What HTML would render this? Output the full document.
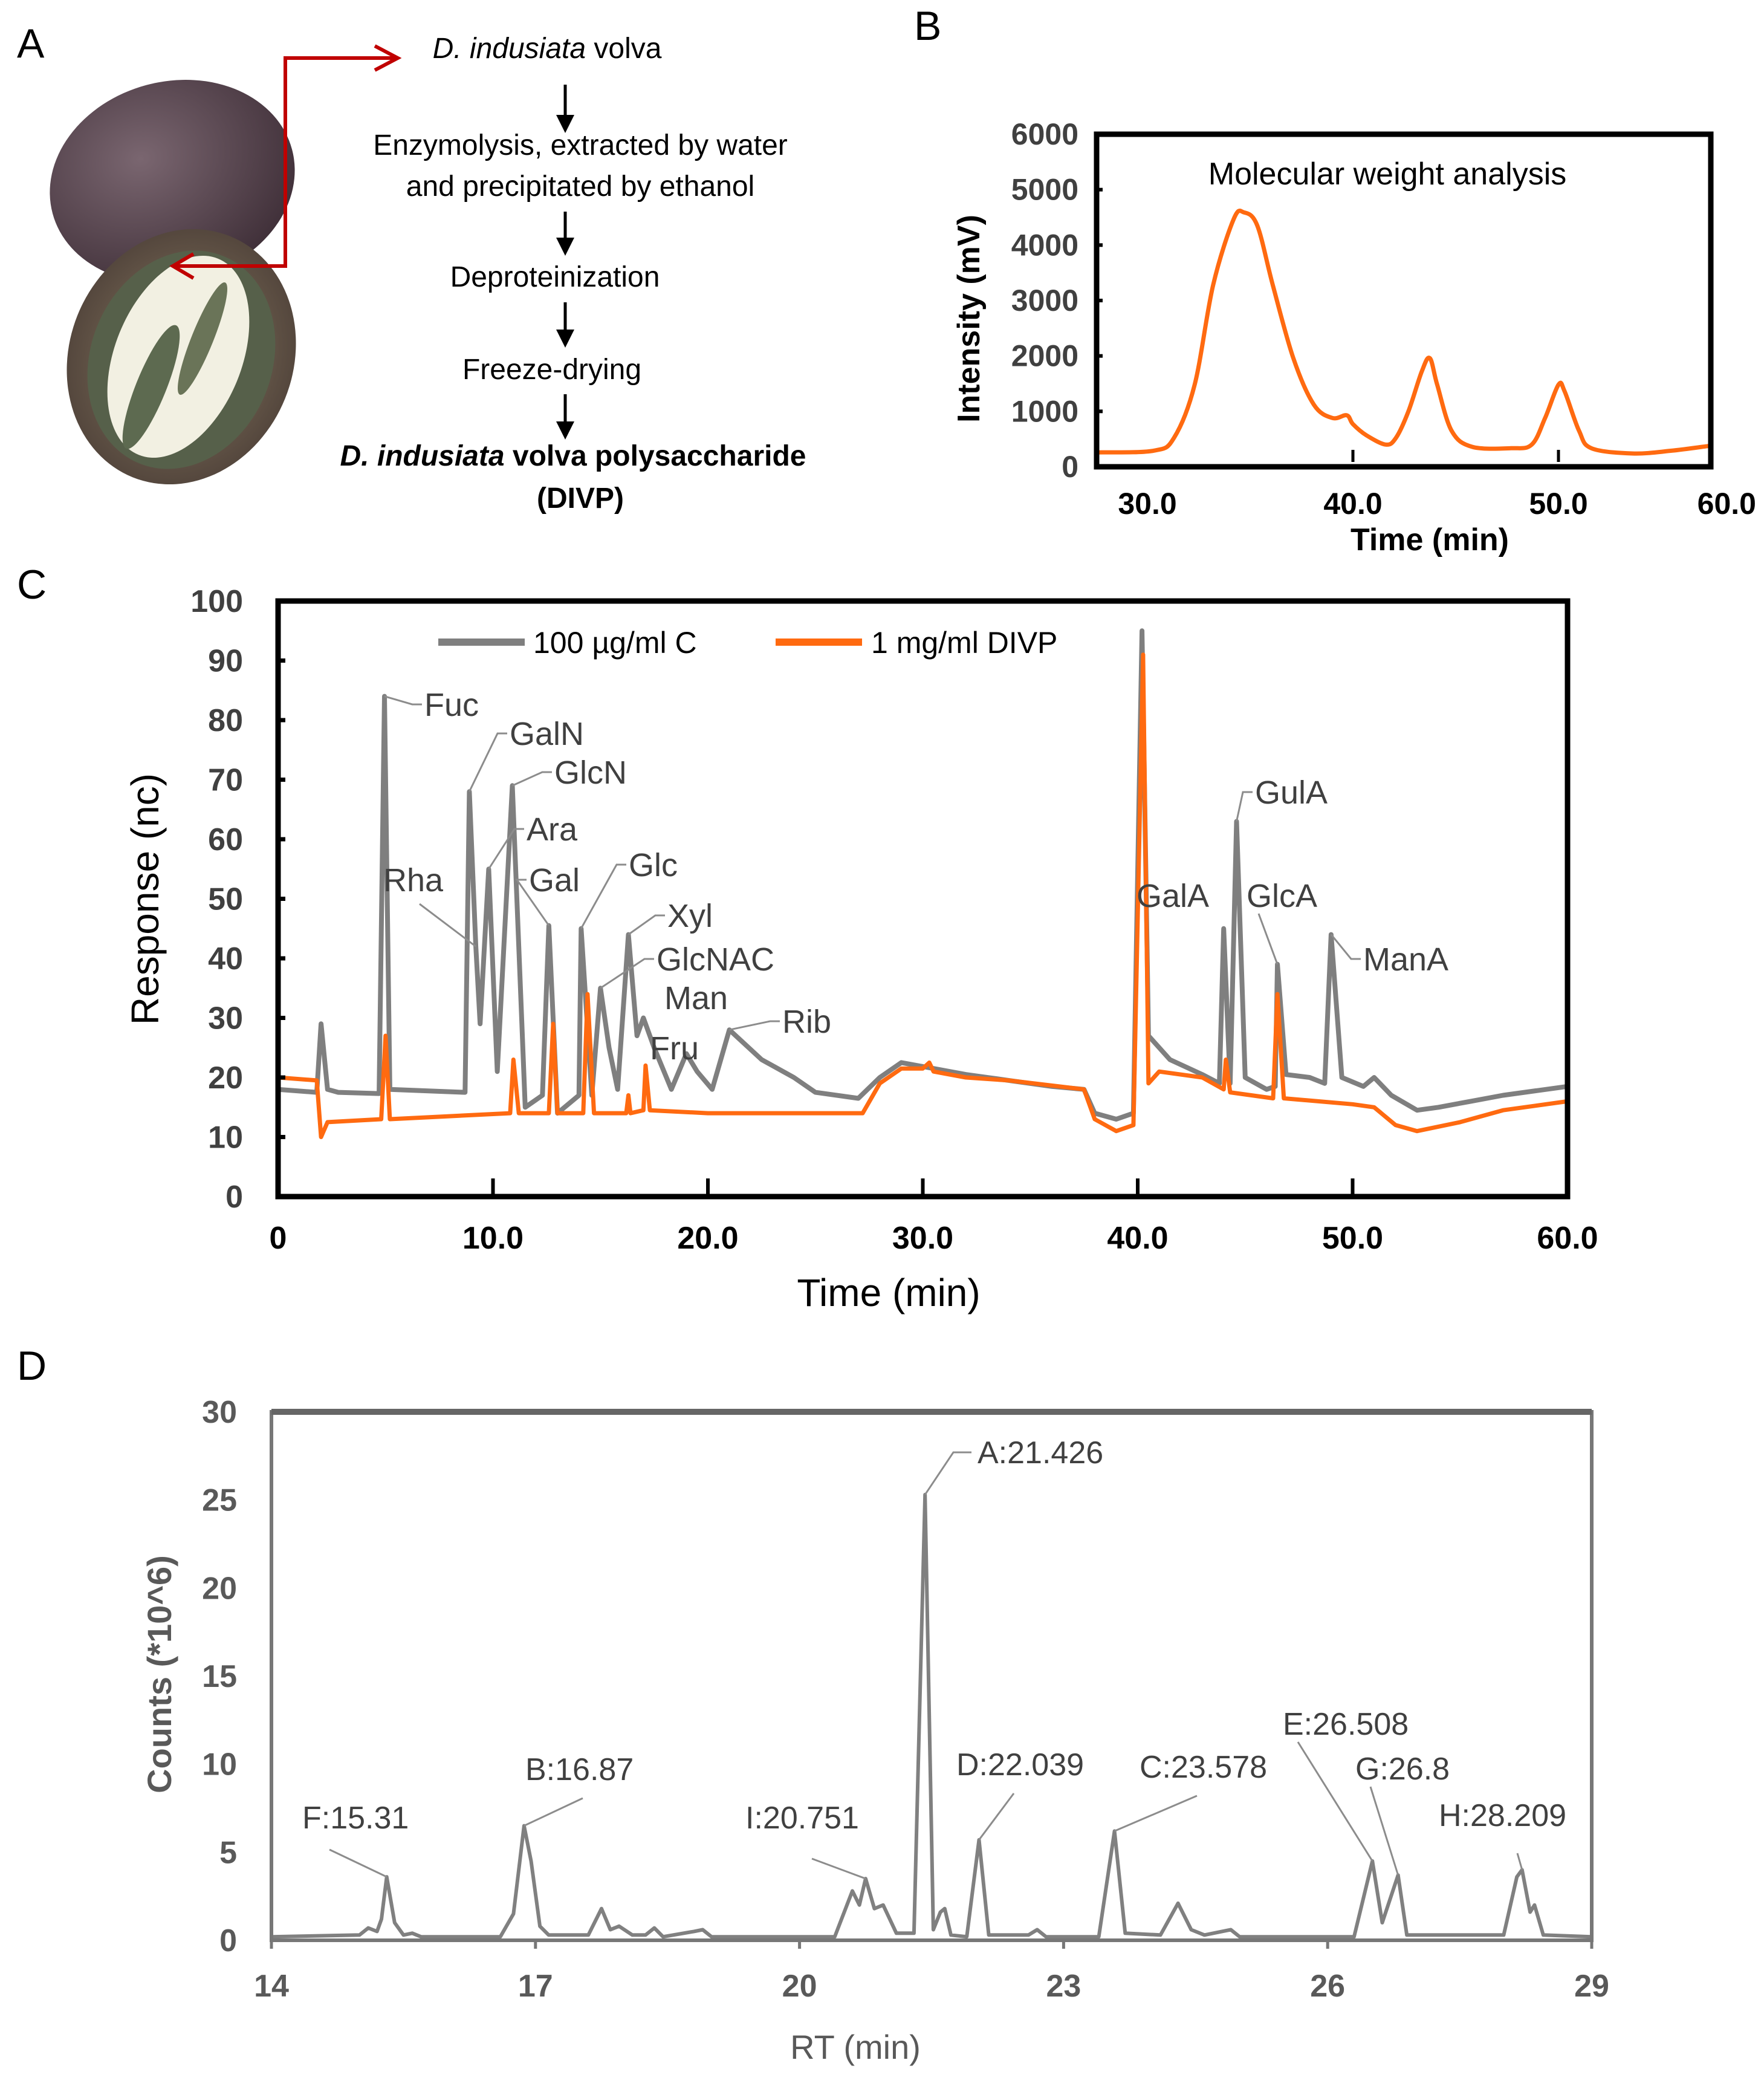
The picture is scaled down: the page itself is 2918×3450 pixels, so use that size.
<!DOCTYPE html>
<html><head><meta charset="utf-8"><style>
html,body{margin:0;padding:0;background:#fff;}
svg text{font-family:"Liberation Sans",sans-serif;}
</style></head><body>
<svg id="fig" xmlns="http://www.w3.org/2000/svg" width="2918" height="3445" viewBox="0 0 2918 3445">
<defs>
<radialGradient id="gTop" cx="40%" cy="35%" r="70%"><stop offset="0" stop-color="#7a6670"/><stop offset="1" stop-color="#3f2f38"/></radialGradient>
<radialGradient id="gBot" cx="50%" cy="50%" r="60%"><stop offset="0" stop-color="#8a7a62"/><stop offset="1" stop-color="#4a3d36"/></radialGradient>
<marker id="arrB" markerWidth="6" markerHeight="6" refX="3" refY="3" orient="auto" markerUnits="strokeWidth"><path d="M0,0 L6,3 L0,6 z" fill="#000"/></marker>
</defs>

<!-- Panel A -->
<text x="28" y="95" font-size="68" fill="#000">A</text>
<g>
  <ellipse cx="285" cy="300" rx="205" ry="165" fill="url(#gTop)" transform="rotate(-15 285 300)"/>
  <ellipse cx="300" cy="590" rx="185" ry="215" fill="url(#gBot)" transform="rotate(22 300 590)"/>
  <ellipse cx="300" cy="595" rx="150" ry="185" fill="#56604a" transform="rotate(22 300 595)"/>
  <ellipse cx="295" cy="590" rx="105" ry="175" fill="#f2f0e2" transform="rotate(22 295 590)"/>
  <ellipse cx="250" cy="640" rx="25" ry="110" fill="#5d6a50" transform="rotate(22 250 640)"/>
  <ellipse cx="335" cy="560" rx="18" ry="100" fill="#6a7458" transform="rotate(22 335 560)"/>
</g>
<g stroke="#c00000" stroke-width="6" fill="none">
  <polyline points="290,440 472,440 472,96 655,96"/>
  <polyline points="620,76 658,96 620,116"/>
  <polyline points="320,420 286,440 320,460"/>
</g>
<g font-size="48" text-anchor="middle" fill="#000">
  <text x="905" y="96"><tspan font-style="italic">D. indusiata</tspan> volva</text>
  <text x="960" y="256">Enzymolysis, extracted by water</text>
  <text x="960" y="324">and precipitated by ethanol</text>
  <text x="918" y="474">Deproteinization</text>
  <text x="913" y="627">Freeze-drying</text>
  <text x="948" y="770" font-weight="bold"><tspan font-style="italic">D. indusiata</tspan> volva polysaccharide</text>
  <text x="960" y="840" font-weight="bold">(DIVP)</text>
  <g stroke="#000" stroke-width="5">
    <line x1="935" y1="140" x2="935" y2="205" marker-end="url(#arrB)"/>
    <line x1="935" y1="350" x2="935" y2="408" marker-end="url(#arrB)"/>
    <line x1="935" y1="500" x2="935" y2="560" marker-end="url(#arrB)"/>
    <line x1="935" y1="652" x2="935" y2="712" marker-end="url(#arrB)"/>
  </g>
</g>

<text x="1512" y="66" font-size="68" fill="#000">B</text>
<g id="panelB"></g>
<text x="28" y="990" font-size="68" fill="#000">C</text>
<g id="panelC"></g>
<text x="28" y="2282" font-size="68" fill="#000">D</text>
<g id="panelD"></g>
</svg>
<script>
// ---------- Panel B data ----------
const bTimes = [27.5,30.3,31.3,32.3,33.2,34.2,34.7,35.35,36.1,37.1,38.1,39.0,39.7,40.0,40.65,41.6,42.1,42.7,43.35,43.74,44.1,44.8,45.8,47.7,48.7,49.35,50.0,50.3,51.0,51.6,53.6,55.5,57.4];
const bValues = [260,290,525,1480,3280,4470,4590,4350,3280,1960,1120,880,930,770,570,400,525,1000,1720,1960,1480,650,360,335,400,880,1480,1360,650,335,240,290,380];
const bYTicks = [0,1000,2000,3000,4000,5000,6000];
const bXTicks = [30,40,50,60];
const bXTickLabels = ["30.0","40.0","50.0","60.0"];

// ---------- Panel C data ----------
const cGrayT = [0,1.8,2,2.3,2.8,4.7,4.95,5.2,8.7,8.9,9.2,9.4,9.8,10.2,10.9,11.5,12.3,12.6,13,14,14.1,14.6,15,15.4,15.8,16.3,16.7,17,17.5,18.3,19,19.5,20.2,21,21.6,22.5,24,25,27,28,29,30.5,32,34,36,37.5,38,39,39.8,40.2,40.5,41.5,43,43.8,44,44.3,44.6,45,46,46.4,46.5,46.9,48,48.7,49,49.5,50.5,51,51.8,53,54,55.5,57,60];
const cGrayV = [18,17.5,29,18,17.5,17.3,84,18,17.5,68,42,29,55,21,69,15,17,45.5,14,17,45,17,35,25,18,44,27,30,25,18,24,21,18,28,26,23,20,17.5,16.5,20,22.5,21.5,20.5,19.5,18.5,18,14,13,14,95,27,23,20.5,19,45,19,63,20,18,18.5,39,20.5,20,19,44,20,18.5,20,17,14.5,15,16,17,18.5];
const cOrangeT = [0,1.8,2,2.3,4.8,5,5.2,10.8,10.95,11.2,12.6,12.8,13,14.2,14.4,14.7,16.2,16.3,16.4,17,17.1,17.3,20,27.2,28,29,30,30.3,30.5,32,34,37.5,38,39,39.8,40.25,40.5,41,43,44,44.1,44.3,46.3,46.5,46.8,50,51,52,53,55,57,60];
const cOrangeV = [20,19.5,10,12.5,13,27,13,14,23,14,14,29,14,14,34,14,14,17,14,14.5,22,14.5,14,14,19,21.5,21.5,22.5,21,20,19.5,18,13,11,12,91,19,21,20,18,23,17.5,16.5,34,16.5,15.5,15,12,11,12.5,14.5,16];
const cYTicks = [0,10,20,30,40,50,60,70,80,90,100];
const cXTicks = [0,10,20,30,40,50,60];
const cXTickLabels = ["0","10.0","20.0","30.0","40.0","50.0","60.0"];
const cPeakNames = ["Fuc","GalN","GlcN","Ara","Rha","Gal","Glc","Xyl","GlcNAC","Man","Fru","Rib","GalA","GulA","GlcA","ManA"];
const cPeakT = [4.95,8.9,10.9,9.8,9.2,12.6,14.1,16.3,15.0,17.0,19.0,21.0,44.0,44.6,46.5,49.0];
const cPeakV = [84,68,69,55,42,45.5,45,44,35,30,24,28,45,63,39,44];

// ---------- Panel D data ----------
const dT = [14,15.0,15.1,15.2,15.25,15.31,15.4,15.5,15.6,15.7,16.6,16.75,16.87,16.95,17.05,17.15,17.6,17.75,17.85,17.95,18.1,18.25,18.35,18.45,18.8,18.9,19.0,20.4,20.6,20.68,20.751,20.85,20.95,21.1,21.3,21.426,21.52,21.6,21.65,21.72,21.9,22.039,22.15,22.6,22.7,22.8,23.4,23.578,23.7,24.1,24.3,24.45,24.6,24.9,25.0,26.3,26.508,26.62,26.8,26.9,28.0,28.15,28.209,28.3,28.35,28.45,29];
const dV = [0.2,0.3,0.7,0.5,1.2,3.6,1.0,0.3,0.4,0.2,0.2,1.5,6.5,4.5,0.8,0.3,0.3,1.8,0.6,0.8,0.3,0.3,0.7,0.2,0.5,0.6,0.2,0.2,2.8,2.0,3.5,1.8,2.0,0.4,0.4,25.3,0.6,1.6,1.8,0.3,0.2,5.7,0.3,0.3,0.6,0.2,0.2,6.2,0.4,0.3,2.1,0.6,0.3,0.6,0.2,0.2,4.5,1.0,3.7,0.3,0.3,3.6,4.0,1.6,2.0,0.3,0.2];
const dYTicks = [0,5,10,15,20,25,30];
const dXTicks = [14,17,20,23,26,29];
const dLabels = ["A:21.426","B:16.87","C:23.578","D:22.039","E:26.508","F:15.31","G:26.8","H:28.209","I:20.751"];
const dLabelT = [21.426,16.87,23.578,22.039,26.508,15.31,26.8,28.209,20.751];
const dLabelV = [25.3,6.5,6.2,5.7,4.5,3.6,3.7,4.0,3.5];

const NS = "http://www.w3.org/2000/svg";
function mk(parent, tag, attrs, txt){
  const e = document.createElementNS(NS, tag);
  for (const k in attrs) e.setAttribute(k, attrs[k]);
  if (txt !== undefined) e.textContent = txt;
  parent.appendChild(e);
  return e;
}
function pathFrom(ts, vs, fx, fy){
  let d = "";
  for (let i=0;i<ts.length;i++) d += (i?"L":"M") + fx(ts[i]).toFixed(1) + "," + fy(vs[i]).toFixed(1);
  return d;
}
function smoothPath(ts, vs, fx, fy){
  const p = ts.map((t,i)=>[fx(t),fy(vs[i])]);
  let d = "M"+p[0][0].toFixed(1)+","+p[0][1].toFixed(1);
  for(let i=0;i<p.length-1;i++){
    const p0=p[Math.max(0,i-1)], p1=p[i], p2=p[i+1], p3=p[Math.min(p.length-1,i+2)];
    const c1=[p1[0]+(p2[0]-p0[0])/6, p1[1]+(p2[1]-p0[1])/6];
    const c2=[p2[0]-(p3[0]-p1[0])/6, p2[1]-(p3[1]-p1[1])/6];
    d += "C"+c1[0].toFixed(1)+","+c1[1].toFixed(1)+" "+c2[0].toFixed(1)+","+c2[1].toFixed(1)+" "+p2[0].toFixed(1)+","+p2[1].toFixed(1);
  }
  return d;
}

// ===== Panel B =====
(function(){
  const g = document.getElementById('panelB');
  const L=1814,R=2830,T=222,B=772;
  const x = t => 2238 + (t-40)*34;
  const y = v => B - v/6000*(B-T);
  let e = mk(g,'path',{d:smoothPath(bTimes,bValues,x,y),fill:'none',stroke:'#ff6a10','stroke-width':7,'stroke-linejoin':'round'});
  
  
  e = mk(g,'rect',{x:L,y:T,width:R-L,height:B-T,fill:'none',stroke:'#000','stroke-width':9});
  
  
  bYTicks.forEach(v=>{
    const t = mk(g,'text',{x:L-30,y:y(v)+17,'font-size':50,'font-weight':'bold',fill:'#404040','text-anchor':'end'},String(v));
    
    
    const tk = mk(g,'line',{x1:L,x2:L+10,y1:y(v),y2:y(v),stroke:'#000','stroke-width':6});
    
    
  });
  bXTicks.forEach((v,i)=>{
    const t = mk(g,'text',{x:Math.min(x(v),2905),y:850,'font-size':50,'font-weight':'bold',fill:'#000','text-anchor':x(v)>2880?'end':'middle'},bXTickLabels[i]);
    
    
    if(v>30 && v<60){
      const tk = mk(g,'line',{x1:x(v),x2:x(v),y1:B-8,y2:B-28,stroke:'#000','stroke-width':5});
      
      
    }
  });
  e = mk(g,'text',{x:2295,y:305,'font-size':52,fill:'#000','text-anchor':'middle'},'Molecular weight analysis');
  
  
  e = mk(g,'text',{x:2365,y:910,'font-size':52,'font-weight':'bold',fill:'#000','text-anchor':'middle'},'Time (min)');
  
  
  e = mk(g,'text',{x:0,y:0,'font-size':52,'font-weight':'bold',fill:'#000','text-anchor':'middle',transform:'translate(1620,527) rotate(-90)'},'Intensity (mV)');
  
  
})();

// ===== Panel C =====
(function(){
  const g = document.getElementById('panelC');
  const L=460,R=2593,T=994,B=1979;
  const x = t => L + t/60*(R-L);
  const y = v => B - v/100*(B-T);
  let e = mk(g,'path',{d:pathFrom(cGrayT,cGrayV,x,y),fill:'none',stroke:'#7f7f7f','stroke-width':8,'stroke-linejoin':'round'});
  
  
  e = mk(g,'path',{d:pathFrom(cOrangeT,cOrangeV,x,y),fill:'none',stroke:'#ff6a10','stroke-width':7,'stroke-linejoin':'round'});
  
  
  e = mk(g,'rect',{x:L,y:T,width:R-L,height:B-T,fill:'none',stroke:'#000','stroke-width':9});
  
  
  cYTicks.forEach(v=>{
    const t = mk(g,'text',{x:402,y:y(v)+18,'font-size':52,'font-weight':'bold',fill:'#404040','text-anchor':'end'},String(v));
    
    
    const tk = mk(g,'line',{x1:L,x2:L+12,y1:y(v),y2:y(v),stroke:'#000','stroke-width':7});
    
    
  });
  cXTicks.forEach((v,i)=>{
    const t = mk(g,'text',{x:x(v),y:2065,'font-size':52,'font-weight':'bold',fill:'#000','text-anchor':'middle'},cXTickLabels[i]);
    
    
    const tk = mk(g,'line',{x1:x(v),x2:x(v),y1:B,y2:B-30,stroke:'#000','stroke-width':6});
    
    
  });
  // peak labels: absolute label anchor (left x, center y)
  const labPos = {Fuc:[702,1165],GalN:[843,1213],GlcN:[917,1277],Ara:[871,1371],Rha:[634,1455],Gal:[875,1455],Glc:[1040,1430],Xyl:[1104,1514],GlcNAC:[1086,1586],Man:[1099,1650],Fru:[1075,1733],Rib:[1294,1689],GalA:[1880,1481],GulA:[2076,1310],GlcA:[2062,1481],ManA:[2255,1586]};
  const noLeader = {Man:1,Fru:1,GalA:1};
  cPeakNames.forEach((n,i)=>{
    const px=x(cPeakT[i]), py=y(cPeakV[i]);
    const p = labPos[n];
    const tx=p[0], ty=p[1];
    if(!noLeader[n]){
      let pts;
      if(n==="Rha") pts = `${tx+60},${ty+40} ${px},${py}`;
      else if(n==="GlcA") pts = `${tx+20},${ty+30} ${px},${py}`;
      else pts = `${px},${py} ${tx-20},${ty} ${tx-4},${ty}`;
      const ln = mk(g,'polyline',{points:pts,fill:'none',stroke:'#8c8c8c','stroke-width':3});
      
      
    }
    const t = mk(g,'text',{x:tx,y:ty+19,'font-size':54,fill:'#404040'},n);
    
    
  });
  // legend
  let l = mk(g,'line',{x1:725,x2:868,y1:1062,y2:1062,stroke:'#7f7f7f','stroke-width':12});
  
  
  l = mk(g,'text',{x:882,y:1080,'font-size':50,fill:'#000'},'100 µg/ml C');
  
  
  l = mk(g,'line',{x1:1283,x2:1426,y1:1062,y2:1062,stroke:'#ff6a10','stroke-width':12});
  
  
  l = mk(g,'text',{x:1441,y:1080,'font-size':50,fill:'#000'},'1 mg/ml DIVP');
  
  
  e = mk(g,'text',{x:1470,y:2160,'font-size':64,fill:'#000','text-anchor':'middle'},'Time (min)');
  
  
  e = mk(g,'text',{x:0,y:0,'font-size':64,fill:'#000','text-anchor':'middle',transform:'translate(262,1487) rotate(-90)'},'Response (nc)');
  
  
})();

// ===== Panel D =====
(function(){
  const g = document.getElementById('panelD');
  const L=449,R=2633,T=2335,B=3209;
  const x = t => L + (t-14)/15*(R-L);
  const y = v => B - v/30*(B-T);
  let e = mk(g,'line',{x1:L,x2:R,y1:y(0),y2:y(0),stroke:'#d0d0d0','stroke-width':4});
  
  
  e = mk(g,'path',{d:pathFrom(dT,dV,x,y),fill:'none',stroke:'#808080','stroke-width':6,'stroke-linejoin':'round'});
  
  
  e = mk(g,'rect',{x:L,y:T,width:R-L,height:B-T,fill:'none',stroke:'#777','stroke-width':6});
  
  
  e = mk(g,'line',{x1:L,x2:R,y1:T,y2:T,stroke:'#666','stroke-width':10});
  
  
  dYTicks.forEach(v=>{
    const t = mk(g,'text',{x:392,y:y(v)+18,'font-size':52,'font-weight':'bold',fill:'#595959','text-anchor':'end'},String(v));
    
    
  });
  dXTicks.forEach(v=>{
    const t = mk(g,'text',{x:x(v),y:3302,'font-size':52,'font-weight':'bold',fill:'#595959','text-anchor':'middle'},String(v));
    
    
    const tk = mk(g,'line',{x1:x(v),x2:x(v),y1:B,y2:B+14,stroke:'#777','stroke-width':5});
    
    
  });
  const lp = {"A:21.426":[1617,2420],"B:16.87":[869,2944],"C:23.578":[1885,2940],"D:22.039":[1582,2936],"E:26.508":[2122,2869],"F:15.31":[500,3024],"G:26.8":[2242,2943],"H:28.209":[2380,3020],"I:20.751":[1233,3024]};
  dLabels.forEach((n,i)=>{
    const px=x(dLabelT[i]), py=y(dLabelV[i]);
    const p = lp[n];
    let lx, ly;
    if(i===0){ lx=p[0]-10; ly=p[1]-18; }
    else if(n.startsWith("E")||n.startsWith("G")){ lx=p[0]+25; ly=p[1]+12; }
    else if(n.startsWith("H")){ lx=p[0]+130; ly=p[1]+45; }
    else if(n.startsWith("F")){ lx=p[0]+45; ly=p[1]+35; }
    else if(n.startsWith("I")){ lx=p[0]+110; ly=p[1]+50; }
    else { lx=p[0]+95; ly=p[1]+30; }
    const pts = i===0 ? `${px},${py} ${lx-30},${ly} ${lx},${ly}` : `${px},${py} ${lx},${ly}`;
    const ln = mk(g,'polyline',{points:pts,fill:'none',stroke:'#8c8c8c','stroke-width':3});
    
    
    const t = mk(g,'text',{x:p[0],y:p[1],'font-size':52,fill:'#404040'},n);
    
    
  });
  e = mk(g,'text',{x:1415,y:3405,'font-size':56,fill:'#595959','text-anchor':'middle'},'RT (min)');
  
  
  e = mk(g,'text',{x:0,y:0,'font-size':56,'font-weight':'bold',fill:'#595959','text-anchor':'middle',transform:'translate(283,2769) rotate(-90)'},'Counts (*10^6)');
  
  
})();
</script>
</body></html>
